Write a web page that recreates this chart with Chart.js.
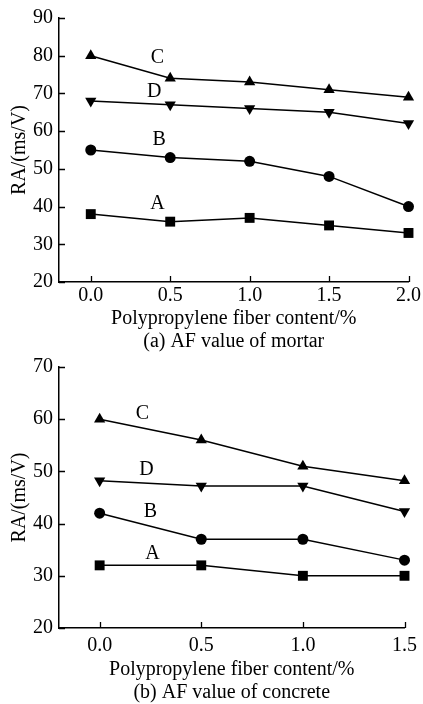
<!DOCTYPE html>
<html>
<head>
<meta charset="utf-8">
<script src="https://cdn.jsdelivr.net/npm/chart.js@4.4.0/dist/chart.umd.min.js"></script>
<style>
  html,body{margin:0;padding:0;background:#fff;overflow:hidden;}
  .box{position:absolute;left:0;width:423px;}
</style>
</head>
<body>
<div class="box" style="top:0;height:353px"><canvas id="chartA"></canvas></div>
<div class="box" style="top:349px;height:355px"><canvas id="chartB"></canvas></div>
<script>
// --- data (a) mortar ---
const xMortar = [0.0, 0.5, 1.0, 1.5, 2.0];
const mortarA = [38, 36, 37, 35, 33];
const mortarB = [55, 53, 52, 48, 40];
const mortarC = [80, 74, 73, 71, 69];
const mortarD = [68, 67, 66, 65, 62];
const yTicksMortar = [20, 30, 40, 50, 60, 70, 80, 90];
const labelNamesMortar = ["A", "B", "C", "D"];
const labelXMortar = [0.42, 0.43, 0.42, 0.40];
const labelYMortar = [40.8, 57.7, 79.5, 70.5];

// --- data (b) concrete ---
const xConcrete = [0.0, 0.5, 1.0, 1.5];
const concreteA = [32, 32, 30, 30];
const concreteB = [42, 37, 37, 33];
const concreteC = [60, 56, 51, 48.2];
const concreteD = [48.2, 47.2, 47.2, 42.3];
const yTicksConcrete = [20, 30, 40, 50, 60, 70];
const labelNamesConcrete = ["A", "B", "C", "D"];
const labelXConcrete = [0.26, 0.25, 0.21, 0.23];
const labelYConcrete = [34.2, 42.3, 61.0, 50.3];

const FONT = "'Liberation Serif', 'Times New Roman', serif";
const pts = (xs, ys) => xs.map((x, i) => ({x, y: ys[i]}));

// ticks drawn pointing into the plot
const inwardTicks = {
  id: "inwardTicks",
  afterDatasetsDraw(chart){
    const {ctx, chartArea: a, scales: {x, y}} = chart;
    ctx.save();
    ctx.strokeStyle = "#000";
    ctx.lineWidth = 1.3;
    ctx.beginPath();
    x.ticks.forEach(t => {
      const px = Math.round(x.getPixelForValue(t.value)) + 0.5;
      ctx.moveTo(px, a.bottom); ctx.lineTo(px, a.bottom - 6);
    });
    y.ticks.forEach(t => {
      const py = Math.round(y.getPixelForValue(t.value)) + 0.5;
      ctx.moveTo(a.left, py); ctx.lineTo(a.left + 6, py);
    });
    ctx.stroke();
    ctx.restore();
  }
};

// series names written next to the curves
const seriesNames = {
  id: "seriesNames",
  afterDatasetsDraw(chart, args, opts){
    const {ctx, scales: {x, y}} = chart;
    ctx.save();
    ctx.fillStyle = "#000";
    ctx.font = "20px " + FONT;
    ctx.textAlign = "center";
    ctx.textBaseline = "middle";
    opts.names.forEach((n, i) => {
      ctx.fillText(n, x.getPixelForValue(opts.xs[i]), y.getPixelForValue(opts.ys[i]));
    });
    ctx.restore();
  }
};

function makeChart(id, xs, series, xTicks, yTicks, xMax, caption, cfg){
  const styles = [
    {pointStyle: "rect", r: 7, rot: 0},
    {pointStyle: "circle", r: 5.5, rot: 0},
    {pointStyle: "triangle", r: 6.5, rot: 0},
    {pointStyle: "triangle", r: 6.5, rot: 180}
  ];
  return new Chart(document.getElementById(id), {
    type: "line",
    data: {
      datasets: series.map((s, i) => ({
        data: pts(xs, s),
        borderColor: "#000",
        backgroundColor: "#000",
        borderWidth: 1.5,
        pointStyle: styles[i].pointStyle,
        pointRadius: styles[i].r,
        pointRotation: styles[i].rot,
        pointBorderWidth: 0,
        tension: 0,
        fill: false,
        clip: false
      }))
    },
    options: {
      responsive: true,
      maintainAspectRatio: false,
      animation: false,
      layout: {padding: {top: cfg.top, right: cfg.right, bottom: 0, left: 0}},
      plugins: {
        legend: {display: false},
        tooltip: {enabled: false},
        seriesNames: {names: cfg.names, xs: cfg.lx, ys: cfg.ly}
      },
      scales: {
        x: {
          type: "linear",
          min: -0.2,
          max: xMax,
          afterBuildTicks: s => { s.ticks = xTicks.map(v => ({value: v})); },
          afterFit: s => { s.height = cfg.xh; },
          ticks: {
            color: "#000",
            font: {family: FONT, size: 20},
            padding: cfg.tickPad,
            maxRotation: 0,
            callback: v => Number(v).toFixed(1)
          },
          grid: {display: true, drawOnChartArea: false, drawTicks: false},
          border: {display: true, color: "#000", width: 1.5},
          title: {
            display: true,
            text: ["Polypropylene fiber content/%", caption],
            color: "#000",
            font: {family: FONT, size: 20, lineHeight: 1.15},
            padding: {top: 0, bottom: 0}
          }
        },
        y: {
          min: yTicks[0],
          max: yTicks[yTicks.length - 1],
          afterBuildTicks: s => { s.ticks = yTicks.map(v => ({value: v})); },
          afterFit: s => { s.width = 59; },
          ticks: {
            color: "#000",
            font: {family: FONT, size: 20},
            padding: 6
          },
          grid: {display: true, drawOnChartArea: false, drawTicks: false},
          border: {display: true, color: "#000", width: 1.5},
          title: {
            display: true,
            text: "RA/(ms/V)",
            color: "#000",
            font: {family: FONT, size: 20, lineHeight: 1.15},
            padding: {top: 8, bottom: 0}
          }
        }
      }
    },
    plugins: [inwardTicks, seriesNames]
  });
}

makeChart("chartA", xMortar, [mortarA, mortarB, mortarC, mortarD],
  xMortar, yTicksMortar, 2.0, "(a) AF value of mortar",
  {top: 17, right: 13, xh: 71, tickPad: 2,
   names: labelNamesMortar, lx: labelXMortar, ly: labelYMortar});

makeChart("chartB", xConcrete, [concreteA, concreteB, concreteC, concreteD],
  xConcrete, yTicksConcrete, 1.5, "(b) AF value of concrete",
  {top: 15, right: 15, xh: 76, tickPad: 6,
   names: labelNamesConcrete, lx: labelXConcrete, ly: labelYConcrete});
</script>
</body>
</html>
